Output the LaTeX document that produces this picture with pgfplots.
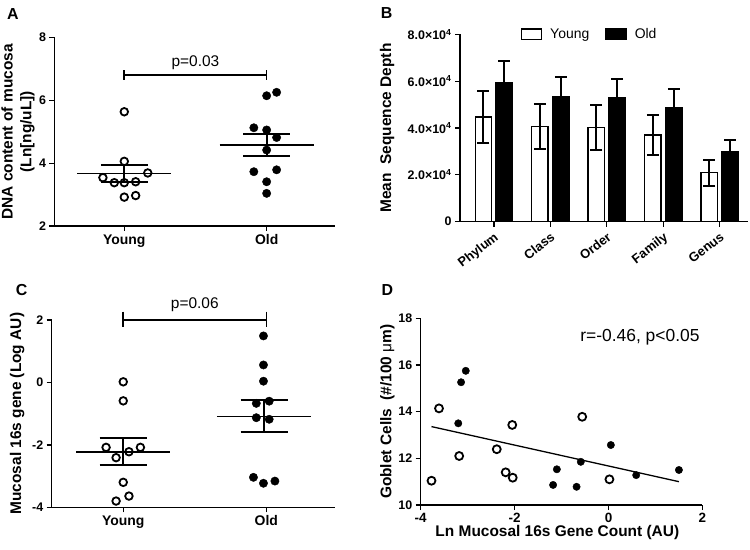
\documentclass[border=0pt]{standalone}
\usepackage{fontspec}
\setmainfont{Liberation Sans}
\usepackage{pgfplots}
\pgfplotsset{compat=1.18}
\usepackage{pgfplotstable}

\pgfplotstableread{
x young yerr old oerr
0 44800 11000 59500 9100
1 40700 9700 53400 8300
2 40300 9700 52900 8000
3 37000 8600 48800 7700
4 20900 5600 29900 5000
}\seqdepth

\newcommand{\labfont}{\bfseries\fontsize{15.5}{19}\selectfont}

\pgfplotsset{
  gp/.style={
    scale only axis,
    anchor=south west,
    axis x line=bottom,
    axis y line=left,
    axis line style={-, line width=1.3pt},
    tick style={line width=1.3pt, black},
    tick align=outside,
    major tick length=5bp,
    minor tick num=0,
    x tick label style={font=\bfseries\fontsize{13.5}{14}\selectfont},
    y tick label style={font=\bfseries\fontsize{12.5}{13}\selectfont},
    clip=false,
  },
  openm/.style={only marks, mark=o, mark size=3.8pt, mark options={line width=1.8pt, draw=black, fill=white}},
  fillm/.style={only marks, mark=*, mark size=4.2pt, mark options={draw=black, fill=black}},
  meanl/.style={line width=1.6pt, black},
  seml/.style={line width=2.2pt, black},
}

\begin{document}
\begin{tikzpicture}
\useasboundingbox (0,0) rectangle (750bp,550bp);

% ---------- Panel A ----------
\begin{axis}[gp, at={(54.5bp,324bp)}, width=280.5bp, height=188.3bp,
  xmin=0.51, xmax=2.48, ymin=2, ymax=8,
  xtick={1,2}, xticklabels={Young,Old},
  x tick label style={font=\bfseries\fontsize{14}{14}\selectfont},
  ytick={2,4,6,8}, yticklabels={2,4,6,8},
  ylabel={DNA content of mucosa\\(Ln[ng/uL])},
  every axis y label/.style={at={(axis description cs:-0.13,0.5)}, rotate=90, anchor=center, align=center, font=\labfont},
]
\addplot[openm] coordinates {(1.0,5.64) (1.0,4.06) (0.85,3.54) (0.93,3.38) (1.0,3.38) (1.08,3.41) (1.165,3.69) (1.0,2.92) (1.08,2.97)};
\addplot[fillm] coordinates {(2.0,6.15) (2.07,6.26) (1.91,5.13) (2.0,5.06) (2.07,4.82) (2.0,4.42) (1.91,3.73) (2.07,3.79) (2.0,3.41) (2.0,3.04)};
\addplot[meanl] coordinates {(0.67,3.67) (1.33,3.67)};
\addplot[seml] coordinates {(0.835,3.95) (1.165,3.95)};
\addplot[seml] coordinates {(0.835,3.41) (1.165,3.41)};
\addplot[seml] coordinates {(1,3.41) (1,3.95)};
\addplot[meanl] coordinates {(1.67,4.58) (2.33,4.58)};
\addplot[seml] coordinates {(1.835,4.93) (2.165,4.93)};
\addplot[seml] coordinates {(1.835,4.23) (2.165,4.23)};
\addplot[seml] coordinates {(2,4.23) (2,4.93)};
\addplot[line width=1.6pt] coordinates {(1,6.97) (1,6.65)};
\addplot[line width=1.6pt] coordinates {(1,6.81) (2,6.81)};
\addplot[line width=1.6pt] coordinates {(2,6.97) (2,6.65)};
\node[font=\fontsize{15.5}{16}\selectfont] at (axis cs:1.5,7.2) {p=0.03};
\end{axis}

% ---------- Panel B ----------
\begin{axis}[gp, at={(460bp,328.3bp)}, width=288bp, height=187.4bp,
  xmin=-0.6, xmax=4.5, ymin=0, ymax=80000,
  xtick={0,1,2,3,4}, xticklabels={Phylum,Class,Order,Family,Genus},
  x tick label style={rotate=38, anchor=north east, font=\bfseries\fontsize{13}{13}\selectfont},
  ytick={0,20000,40000,60000,80000},
  yticklabels={0,2.0×10\textsuperscript{4},4.0×10\textsuperscript{4},6.0×10\textsuperscript{4},8.0×10\textsuperscript{4}},
  scaled y ticks=false,
  ylabel={Mean\ \ Sequence Depth},
  every axis y label/.style={at={(axis description cs:-0.253,0.5)}, rotate=90, anchor=center, font=\labfont},
  legend style={at={(0.45,1.0)}, anchor=center, draw=none, fill=none, legend columns=2,
    font=\fontsize{14}{14}\selectfont,
    /tikz/every odd column/.append style={column sep=6bp},
    /tikz/every even column/.append style={column sep=14bp}},
  legend image code/.code={\draw[draw=black, line width=1.5pt, #1] (0bp,-5bp) rectangle (20bp,5.5bp);},
]
\addplot[ybar, bar width=0.29, bar shift=0, fill=white, draw=black, line width=1.5pt,
  error bars/.cd, y dir=both, y explicit, error bar style={line width=2pt}, error mark options={rotate=90, line width=2pt, mark size=6pt}]
  table[x expr=\thisrow{x}-0.185, y=young, y error=yerr] {\seqdepth};
\addlegendentry{Young}
\addplot[ybar, bar width=0.29, bar shift=0, fill=black, draw=black, line width=1.5pt,
  error bars/.cd, y dir=plus, y explicit, error bar style={line width=2pt}, error mark options={rotate=90, line width=2pt, mark size=6pt}]
  table[x expr=\thisrow{x}+0.185, y=old, y error=oerr] {\seqdepth};
\addlegendentry{Old}
\end{axis}

% ---------- Panel C ----------
\begin{axis}[gp, at={(51.7bp,42.7bp)}, width=283.3bp, height=187.3bp,
  xmin=0.5, xmax=2.48, ymin=-4, ymax=2,
  xtick={1,2}, xticklabels={Young,Old},
  x tick label style={font=\bfseries\fontsize{14}{14}\selectfont},
  ytick={-4,-2,0,2}, yticklabels={-4,-2,0,2},
  ylabel={Mucosal 16s gene (Log AU)},
  every axis y label/.style={at={(axis description cs:-0.122,0.5)}, rotate=90, anchor=center, font=\labfont},
]
\addplot[openm] coordinates {(1.0,0.02) (1.0,-0.59) (0.88,-2.08) (1.12,-2.08) (1.04,-2.22) (0.95,-2.41) (1.0,-3.2) (1.04,-3.64) (0.95,-3.80)};
\addplot[fillm] coordinates {(1.98,1.49) (1.98,0.56) (1.98,0.04) (1.93,-0.67) (2.02,-0.60) (1.93,-1.13) (2.02,-1.18) (1.91,-3.04) (1.98,-3.23) (2.06,-3.16)};
\addplot[meanl] coordinates {(0.67,-2.22) (1.33,-2.22)};
\addplot[seml] coordinates {(0.835,-1.77) (1.165,-1.77)};
\addplot[seml] coordinates {(0.835,-2.65) (1.165,-2.65)};
\addplot[seml] coordinates {(1,-2.65) (1,-1.77)};
\addplot[meanl] coordinates {(1.655,-1.09) (2.315,-1.09)};
\addplot[seml] coordinates {(1.82,-0.56) (2.15,-0.56)};
\addplot[seml] coordinates {(1.82,-1.60) (2.15,-1.60)};
\addplot[seml] coordinates {(1.985,-1.60) (1.985,-0.56)};
\addplot[line width=1.6pt] coordinates {(1,2.27) (1,1.76)};
\addplot[line width=1.6pt] coordinates {(1,2.0) (2,2.0)};
\addplot[line width=1.6pt] coordinates {(2,2.27) (2,1.76)};
\node[font=\fontsize{15.5}{16}\selectfont] at (axis cs:1.5,2.5) {p=0.06};
\end{axis}

% ---------- Panel D ----------
\begin{axis}[gp, at={(420.7bp,45bp)}, width=281.7bp, height=186.7bp,
  xmin=-4, xmax=2, ymin=10, ymax=18,
  xtick={-4,-2,0,2}, xticklabels={-4,-2,0,2},
  ytick={10,12,14,16,18}, yticklabels={10,12,14,16,18},
  ylabel={Goblet Cells\ \ (\#/100 {\mdseries μ}m)},
  every axis y label/.style={at={(axis description cs:-0.118,0.5)}, rotate=90, anchor=center, font=\labfont},
  xlabel={Ln Mucosal 16s Gene Count (AU)},
  every axis x label/.style={at={(axis description cs:0.485,-0.15)}, anchor=center, font=\labfont},
]
\addplot[line width=1.3pt] coordinates {(-3.77,13.36) (1.5,11.0)};
\addplot[only marks, mark=o, mark size=4pt, mark options={line width=1.8pt, draw=black, fill=white}] coordinates {(-3.77,11.04) (-3.61,14.14) (-3.18,12.10) (-2.38,12.39) (-2.19,11.40) (-2.04,11.17) (-2.05,13.43) (-0.56,13.78) (0.02,11.10)};
\addplot[only marks, mark=*, mark size=3.7pt, mark options={draw=black, fill=black}] coordinates {(-3.14,15.26) (-3.04,15.75) (-3.2,13.50) (-1.10,11.53) (-1.18,10.86) (-0.68,10.78) (-0.59,11.85) (0.05,12.57) (0.59,11.28) (1.5,11.50)};
\node[font=\fontsize{17.5}{18}\selectfont] at (axis cs:0.67,17.2) {r=-0.46, p<0.05};
\end{axis}

% panel letters
\node[font=\bfseries\fontsize{16}{16}\selectfont] at (13bp,536bp) {A};
\node[font=\bfseries\fontsize{16}{16}\selectfont] at (386.7bp,536.5bp) {B};
\node[font=\bfseries\fontsize{16}{16}\selectfont] at (21.7bp,260bp) {C};
\node[font=\bfseries\fontsize{16}{16}\selectfont] at (387.3bp,260bp) {D};
\end{tikzpicture}
\end{document}
